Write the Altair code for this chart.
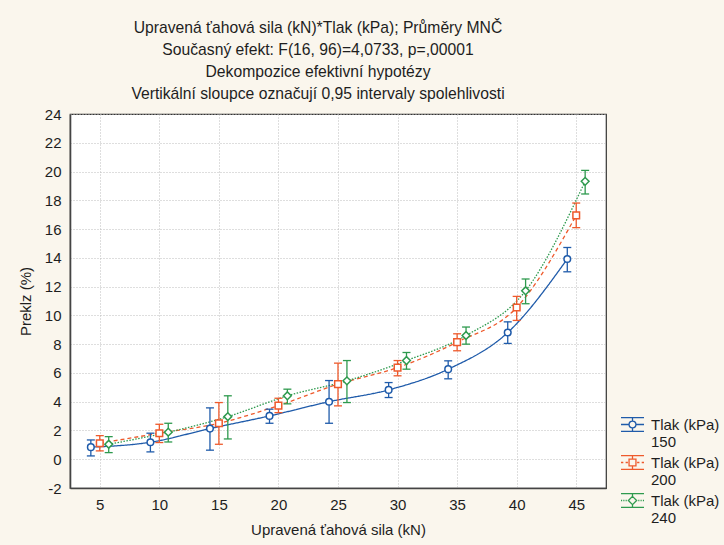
import altair as alt
import pandas as pd

force = [5, 10, 15, 20, 25, 30, 35, 40, 45]
series = ["150", "200", "240"]

mean_150 = [0.84, 1.18, 2.13, 3.01, 4.00, 4.82, 6.26, 8.81, 13.92]
lo_150 = [0.23, 0.51, 0.63, 2.50, 2.50, 4.29, 5.59, 8.05, 13.03]
hi_150 = [1.34, 1.81, 3.57, 3.48, 5.47, 5.33, 6.84, 9.55, 14.72]

mean_200 = [1.11, 1.81, 2.50, 3.73, 5.22, 6.37, 8.14, 10.55, 16.95]
lo_200 = [0.58, 1.16, 1.04, 3.24, 3.71, 5.80, 7.54, 9.65, 16.10]
hi_200 = [1.64, 2.43, 3.94, 4.24, 6.68, 6.86, 8.72, 11.32, 17.81]

mean_240 = [1.04, 1.88, 2.96, 4.41, 5.45, 6.86, 8.60, 11.71, 19.32]
lo_240 = [0.46, 1.20, 1.41, 3.85, 3.94, 6.26, 8.00, 10.81, 18.44]
hi_240 = [1.57, 2.50, 4.41, 4.87, 6.86, 7.42, 9.19, 12.53, 20.08]

y_ticks = [-2, 0, 2, 4, 6, 8, 10, 12, 14, 16, 18, 20, 22, 24]

rows = []
for s, m, lo, hi in [("150", mean_150, lo_150, hi_150),
                     ("200", mean_200, lo_200, hi_200),
                     ("240", mean_240, lo_240, hi_240)]:
    for f, a, b, c in zip(force, m, lo, hi):
        rows.append({"force": f, "series": s, "mean": a, "lo": b, "hi": c})
df = pd.DataFrame(rows)

FONT = "Liberation Sans"
TXT = "#1e1e1e"
colors = ["#1F5BAA", "#EE5A2C", "#2E9A4E"]
cscale = alt.Scale(domain=series, range=colors)
sscale = alt.Scale(domain=["s" + s for s in series], range=colors)
dscale = alt.Scale(domain=["d" + s for s in series], range=[[1, 0], [4, 3], [1.5, 1.5]])
xs = alt.Scale(domain=[2.5, 47.5], nice=False, zero=False)
ys = alt.Scale(domain=[-2, 24], nice=False, zero=False)

offset_expr = ("datum.force + (datum.series == '150' ? -0.75 : "
               "(datum.series == '240' ? 0.75 : 0))")
base = alt.Chart(df).transform_calculate(
    xp=offset_expr, sg="'s' + datum.series", dg="'d' + datum.series")

x_axis = alt.Axis(values=force, title="Upravená ťahová sila (kN)", ticks=False,
                  labelPadding=9, titlePadding=10, labelFontSize=15,
                  grid=True)
y_axis = alt.Axis(values=y_ticks, title="Preklz (%)", ticks=False,
                  labelPadding=9, titlePadding=11, labelFontSize=15,
                  labelExpr="'' + datum.value", grid=True)

X = alt.X("xp:Q", scale=xs, axis=x_axis)
Ym = alt.Y("mean:Q", scale=ys, axis=y_axis)
Ylo = alt.Y("lo:Q", scale=ys, axis=y_axis)
Yhi = alt.Y("hi:Q", scale=ys, axis=y_axis)
stk = alt.Stroke("sg:N", scale=sscale, legend=None)

lines = base.mark_line(strokeWidth=1.3, interpolate="monotone").encode(
    x=X, y=Ym, stroke=stk,
    strokeDash=alt.StrokeDash("dg:N", scale=dscale, legend=None),
)

rules = base.mark_rule(strokeWidth=1.3).encode(x=X, y=Ylo, y2="hi:Q", stroke=stk)
cap_lo = base.mark_rule(strokeWidth=1.3, xOffset=-4, x2Offset=4).encode(
    x=X, x2="xp:Q", y=Ylo, stroke=stk)
cap_hi = base.mark_rule(strokeWidth=1.3, xOffset=-4, x2Offset=4).encode(
    x=X, x2="xp:Q", y=Yhi, stroke=stk)

pts = []
for shp, s, sz in [("circle", "150", 44), ("square", "200", 44), ("diamond", "240", 60)]:
    pts.append(
        base.transform_filter(f"datum.series == '{s}'")
        .mark_point(shape=shp, filled=False, fill="white", size=sz,
                    strokeWidth=1.5, opacity=1)
        .encode(x=X, y=Ym, stroke=stk)
    )

# legend symbols: line + error bar + marker (custom paths)
DY = 0.0


def fmt(v):
    return f"{v:.3f}"


def sym(marker, dash):
    d = DY
    parts = []
    parts.append(f"M-1,{fmt(d-0.6)}H1M-1,{fmt(d+0.6)}H1")
    parts.append(f"M0,{fmt(d-0.6)}V{fmt(d-0.32)}M0,{fmt(d+0.32)}V{fmt(d+0.6)}")
    if dash == "solid":
        segs = [(-1, -0.32), (0.32, 1)]
    elif dash == "dash":
        segs = [(-1, -0.8), (-0.6, -0.4), (0.4, 0.6), (0.8, 1)]
    else:
        segs = [(-1, -0.9), (-0.8, -0.7), (-0.6, -0.5), (-0.4, -0.32),
                (0.32, 0.4), (0.5, 0.6), (0.7, 0.8), (0.9, 1)]
    for a, b in segs:
        parts.append(f"M{fmt(a)},{fmt(d)}H{fmt(b)}")
    r = 0.3
    if marker == "circle":
        parts.append(f"M{fmt(r)},{fmt(d)}A{r},{r} 0 1,1 {fmt(-r)},{fmt(d)}"
                     f"A{r},{r} 0 1,1 {fmt(r)},{fmt(d)}Z")
    elif marker == "square":
        parts.append(f"M{fmt(-r)},{fmt(d-r)}H{fmt(r)}V{fmt(d+r)}H{fmt(-r)}Z")
    else:
        q = 0.36
        parts.append(f"M0,{fmt(d-q)}L{fmt(q)},{fmt(d)}L0,{fmt(d+q)}L{fmt(-q)},{fmt(d)}Z")
    return "".join(parts)


paths = [sym("circle", "solid"), sym("square", "dash"), sym("diamond", "dot")]

leg = alt.Legend(
    title=None, orient="none", legendX=550, legendY=298, padding=0,
    symbolSize=529, symbolStrokeWidth=1.3,
    labelFont=FONT, labelFontSize=15, labelColor=TXT,
    labelExpr="['Tlak (kPa)', datum.label]", labelOffset=6,
    rowPadding=-1,
)

legend_layer = base.transform_filter("false").mark_point(
    filled=False, opacity=1, size=529, strokeWidth=1.3
).encode(
    x=X, y=Ym,
    color=alt.Color("series:N", scale=cscale, legend=leg),
    shape=alt.Shape("series:N", scale=alt.Scale(domain=series, range=paths), legend=leg),
)

title = alt.TitleParams(
    text=["Upravená ťahová sila (kN)*Tlak (kPa); Průměry MNČ",
          "Současný efekt: F(16, 96)=4,0733, p=,00001",
          "Dekompozice efektivní hypotézy",
          "Vertikální sloupce označují 0,95 intervaly spolehlivosti"],
    font=FONT, fontSize=15.7, fontWeight="normal", color=TXT,
    lineHeight=22, anchor="middle", dx=-20, offset=4,
)

chart = alt.layer(lines, rules, cap_lo, cap_hi, *pts, legend_layer).properties(
    width=536, height=374,
    autosize=alt.AutoSizeParams(type="none"),
    padding={"left": 70, "top": 114, "right": 118, "bottom": 57},
    title=title,
    background="#FAF6ED",
).configure_view(
    fill="white", stroke="#333333", strokeWidth=1.2,
).configure_axis(
    labelFont=FONT, titleFont=FONT, labelColor=TXT, titleColor=TXT,
    titleFontSize=15, titleFontWeight="normal",
    domainColor="#444444", domainWidth=1.6,
    gridColor="#BDBDBD", gridDash=[1, 2], gridWidth=1,
)

chart.save("out.html", embed_options={"renderer": "svg", "actions": False})
